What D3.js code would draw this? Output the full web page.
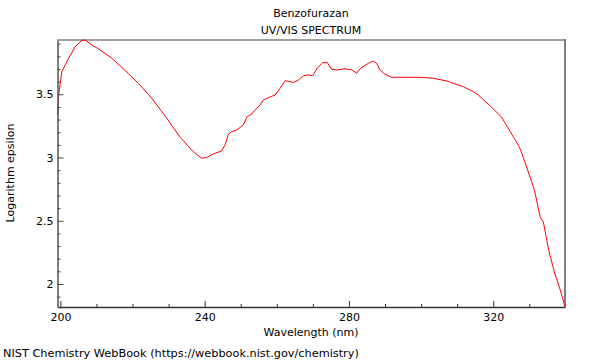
<!DOCTYPE html>
<html><head><meta charset="utf-8">
<script src="https://cdn.jsdelivr.net/npm/d3@7"></script>
<style>body{margin:0;background:#fff}svg{display:block;font-family:"DejaVu Sans",sans-serif}</style>
</head><body><svg id="c" width="600" height="360"></svg>
<script>
const wavelength = [199.22,199.45,199.92,200.39,201.3,202.2,203.6,204.07,205.9,206.85,207.3,208.7,210.5,211.0,214.25,217.9,221.6,225.3,229.5,233.2,235.95,237.3,239.2,240.6,242.4,244.7,245.65,246.6,247.5,248.9,250.7,251.7,253.05,254.0,255.35,256.3,257.65,259.5,260.9,262.3,263.67,264.6,265.96,267.35,268.7,269.95,271.2,272.7,274.0,275.2,276.6,278.9,280.8,282.15,283.26,285.4,286.75,287.7,288.6,290.0,291.85,294.15,297.8,299.7,303.4,307.1,311.7,314.5,315.85,319.1,322.3,324.6,326.5,327.6,328.7,330.65,331.1,331.6,333.0,333.9,335.4,337.1,338.5,339.9];
const logEpsilon = [3.334,3.48,3.574,3.68,3.73,3.78,3.85,3.876,3.925,3.929,3.92,3.89,3.86,3.85,3.785,3.69,3.587,3.47,3.31,3.16,3.073,3.034,2.994,3.0,3.028,3.052,3.1,3.184,3.204,3.218,3.257,3.32,3.344,3.376,3.415,3.455,3.473,3.494,3.547,3.607,3.6,3.592,3.613,3.645,3.653,3.647,3.706,3.75,3.75,3.698,3.692,3.702,3.692,3.666,3.706,3.745,3.763,3.745,3.692,3.658,3.634,3.634,3.634,3.634,3.626,3.605,3.56,3.52,3.494,3.41,3.32,3.21,3.12,3.06,2.97,2.81,2.77,2.72,2.53,2.49,2.265,2.08,1.96,1.82];
const xMajorTicks = [200,240,280,320];
const xMinorTicks = [210,220,230,250,260,270,290,300,310,330];
const yMajorTicks = [2,2.5,3,3.5];
const yMinorTicks = [1.9,2.1,2.2,2.3,2.4,2.6,2.7,2.8,2.9,3.1,3.2,3.3,3.4,3.6,3.7,3.8,3.9];
const xDomain = [199.2,339.9];
const yDomain = [1.818,3.929];
const title = ["Benzofurazan","UV/VIS SPECTRUM"];

const svg = d3.select("#c");
const L=57.5, R=565, T=40, B=307;
const x = d3.scaleLinear().domain(xDomain).range([L,R]);
const y = d3.scaleLinear().domain(yDomain).range([B,T]);
const fmt = d => String(d);

// frame top & right
svg.append("line").attr("x1",L).attr("x2",R).attr("y1",T).attr("y2",T).attr("stroke","#a0a0a0").attr("stroke-width",2);
svg.append("line").attr("x1",R).attr("x2",R).attr("y1",T-1).attr("y2",B).attr("stroke","#555").attr("stroke-width",1.5);

// curve
const data = wavelength.map((w,i)=>[w,logEpsilon[i]]);
svg.append("path").datum(data)
  .attr("d", d3.line().x(d=>x(d[0])).y(d=>y(d[1])))
  .attr("fill","none").attr("stroke","#ff0000").attr("stroke-width",1);

// x axis
const gx = svg.append("g").attr("transform",`translate(0,${B})`);
gx.call(d3.axisBottom(x).tickValues(xMajorTicks).tickFormat(fmt).tickSizeInner(-6).tickSizeOuter(0).tickPadding(6));
gx.append("g").call(d3.axisBottom(x).tickValues(xMinorTicks).tickFormat("").tickSizeInner(-3).tickSizeOuter(0)).select(".domain").remove();
gx.selectAll("line").attr("stroke","#333");
gx.select(".domain").attr("stroke","#333").attr("stroke-width",1.5);
gx.selectAll("text").attr("font-size",11).attr("fill","#000").attr("font-family","DejaVu Sans");

// y axis
const gy = svg.append("g").attr("transform",`translate(${L},0)`);
gy.call(d3.axisLeft(y).tickValues(yMajorTicks).tickFormat(fmt).tickSizeInner(-6).tickSizeOuter(0).tickPadding(4));
gy.append("g").call(d3.axisLeft(y).tickValues(yMinorTicks).tickFormat("").tickSizeInner(-3).tickSizeOuter(0)).select(".domain").remove();
gy.selectAll("line").attr("stroke","#444");
gy.select(".domain").attr("stroke","#555").attr("stroke-width",1.5);
gy.selectAll("text").attr("font-size",11).attr("fill","#000").attr("font-family","DejaVu Sans");

// titles
svg.append("text").attr("x",311).attr("y",17).attr("text-anchor","middle").attr("font-size",11).text(title[0]);
svg.append("text").attr("x",311).attr("y",34).attr("text-anchor","middle").attr("font-size",11).text(title[1]);
svg.append("text").attr("x",311).attr("y",336).attr("text-anchor","middle").attr("font-size",11).text("Wavelength (nm)");
svg.append("text").attr("transform","translate(14,173) rotate(-90)").attr("text-anchor","middle").attr("font-size",11).text("Logarithm epsilon");
svg.append("text").attr("x",3).attr("y",357).attr("font-size",11.3).text("NIST Chemistry WebBook (https://webbook.nist.gov/chemistry)");
</script></body></html>
